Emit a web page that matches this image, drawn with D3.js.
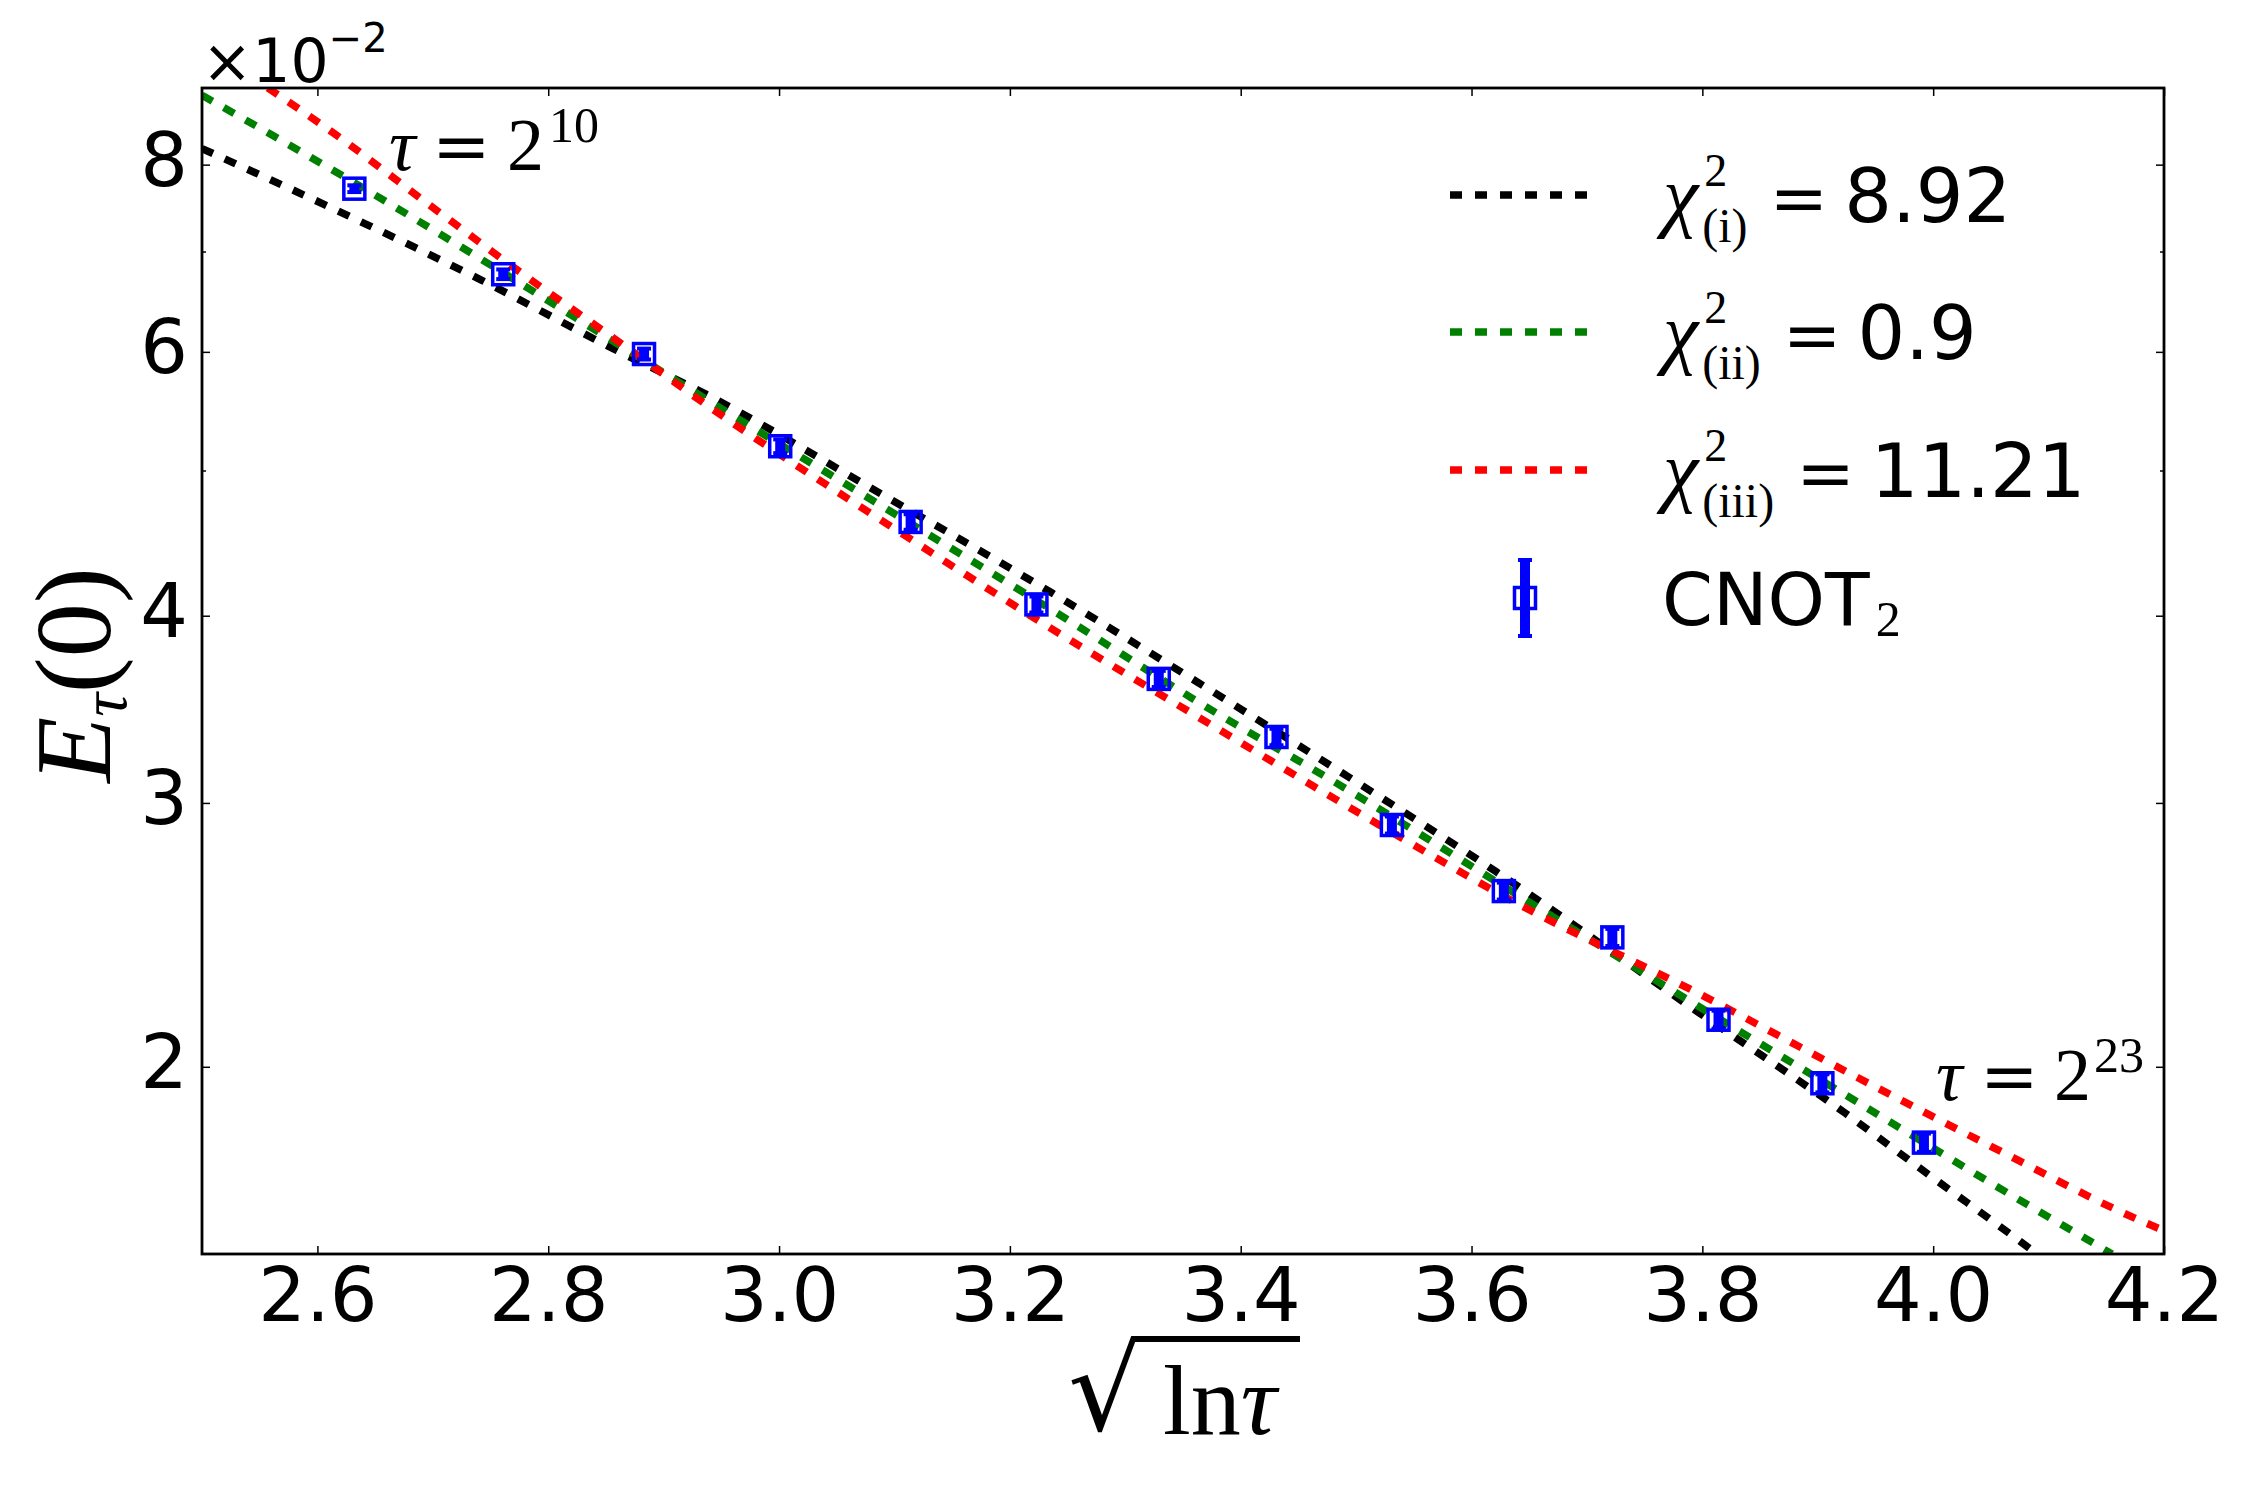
<!DOCTYPE html>
<html>
<head>
<meta charset="utf-8">
<script src="https://cdn.jsdelivr.net/npm/d3@7"></script>
<style>
  body { margin: 0; background: #fff; }
  svg { display: block; }
  .tick text { font-family: "DejaVu Sans"; font-size: 75px; fill: #000; }
  .tick line { stroke: #000; stroke-width: 1.5; }
  .math { font-family: "Liberation Serif", serif; fill: #000; }
</style>
</head>
<body>
<div id="chart"></div>
<script>
// Data (energies in units of 1e-2)
// ==============================
var sqrtLnTau = [2.632, 2.761, 2.883, 3.001, 3.114, 3.223, 3.329, 3.431, 3.531, 3.628, 3.722, 3.814, 3.904, 3.992];
var energy = [7.71, 6.76, 5.98, 5.19, 4.62, 4.07, 3.63, 3.32, 2.90, 2.62, 2.44, 2.15, 1.95, 1.78];
var energyErr = [0.04, 0.05, 0.05, 0.055, 0.055, 0.05, 0.045, 0.042, 0.038, 0.034, 0.032, 0.030, 0.027, 0.025];

// fit curves (i), (ii), (iii)
var fitX1 = [2.500, 2.626, 2.742, 2.858, 2.937, 3.087, 3.237, 3.363, 3.494, 3.621, 3.796, 3.924, 3.995, 4.084, 4.090];
var fitY1 = [8.20, 7.40, 6.70, 6.02, 5.62, 4.83, 4.14, 3.61, 3.12, 2.70, 2.176, 1.862, 1.697, 1.512, 1.50];
var fitX2 = [2.500, 2.621, 2.751, 2.862, 2.935, 3.084, 3.249, 3.364, 3.490, 3.638, 3.786, 3.934, 4.046, 4.155];
var fitY2 = [8.90, 7.87, 6.85, 6.06, 5.59, 4.76, 3.98, 3.50, 3.07, 2.61, 2.22, 1.895, 1.680, 1.50];
var fitX3 = [2.557, 2.611, 2.698, 2.784, 2.855, 2.943, 3.089, 3.234, 3.364, 3.494, 3.644, 3.796, 3.933, 4.050, 4.187, 4.200];
var fitY3 = [9.00, 8.43, 7.51, 6.71, 6.14, 5.49, 4.63, 3.93, 3.42, 2.98, 2.56, 2.24, 1.97, 1.77, 1.57, 1.555];

var fitColors = ["#000000", "#008000", "#ff0000"];
var fitSubs = ["(i)", "(ii)", "(iii)"];
var fitChi2 = ["8.92", "0.9", "11.21"];

var xTicks = [2.6, 2.8, 3.0, 3.2, 3.4, 3.6, 3.8, 4.0, 4.2];
var yTicks = [2, 3, 4, 6, 8];
var yMinorTicks = [5, 7];

// Chart area
// ==============================
var svgWidth = 2250, svgHeight = 1487;
var plot = { left: 202, right: 2164, top: 88, bottom: 1254 };

var svg = d3.select("#chart").append("svg")
  .attr("width", svgWidth)
  .attr("height", svgHeight);

var x = d3.scaleLinear().domain([2.5, 4.2]).range([plot.left, plot.right]);
var y = d3.scaleLog().domain([1.5, 9]).range([plot.bottom, plot.top]);

svg.append("clipPath").attr("id", "clip")
  .append("rect")
  .attr("x", plot.left).attr("y", plot.top)
  .attr("width", plot.right - plot.left).attr("height", plot.bottom - plot.top);

// Axes (ticks point inwards, mirrored on all sides)
// ==============================
var fmt = d3.format(".1f");
svg.append("g").attr("transform", `translate(0, ${plot.bottom})`)
  .call(d3.axisBottom(x).tickValues(xTicks).tickSize(-8).tickPadding(14).tickFormat(fmt))
  .call(g => g.select(".domain").remove());
svg.append("g").attr("transform", `translate(0, ${plot.top})`)
  .call(d3.axisTop(x).tickValues(xTicks).tickSize(-8).tickFormat(""))
  .call(g => g.select(".domain").remove());

svg.append("g").attr("transform", `translate(${plot.left}, 0)`)
  .call(d3.axisLeft(y).tickValues(yTicks).tickSize(-8).tickPadding(14).tickFormat(d3.format("d")))
  .call(g => g.select(".domain").remove())
  .call(g => g.selectAll("text").attr("dy", "0.28em"));
svg.append("g").attr("transform", `translate(${plot.right}, 0)`)
  .call(d3.axisRight(y).tickValues(yTicks).tickSize(-8).tickFormat(""))
  .call(g => g.select(".domain").remove());
svg.append("g").attr("transform", `translate(${plot.left}, 0)`)
  .call(d3.axisLeft(y).tickValues(yMinorTicks).tickSize(-4).tickFormat(""))
  .call(g => g.select(".domain").remove());
svg.append("g").attr("transform", `translate(${plot.right}, 0)`)
  .call(d3.axisRight(y).tickValues(yMinorTicks).tickSize(-4).tickFormat(""))
  .call(g => g.select(".domain").remove());

// Fit lines
// ==============================
var line = d3.line()
  .x(d => x(d[0]))
  .y(d => y(d[1]))
  .curve(d3.curveMonotoneX);

var fits = [d3.zip(fitX1, fitY1), d3.zip(fitX2, fitY2), d3.zip(fitX3, fitY3)];
var linesGroup = svg.append("g").attr("clip-path", "url(#clip)");
fits.forEach(function(pts, i) {
  linesGroup.append("path")
    .datum(pts)
    .attr("d", line)
    .attr("fill", "none")
    .attr("stroke", fitColors[i])
    .attr("stroke-width", 7.5)
    .attr("stroke-dasharray", "12 13");
});

// Data points with error bars
// ==============================
function errorMarker(g, cx, yTop, yBot, cy) {
  g.append("rect")
    .attr("x", cx - 5).attr("y", yTop)
    .attr("width", 10).attr("height", yBot - yTop)
    .attr("fill", "#0000ff");
  [yTop, yBot].forEach(function(yy) {
    g.append("rect")
      .attr("x", cx - 7).attr("y", yy - 2)
      .attr("width", 14).attr("height", 4)
      .attr("fill", "#0000ff");
  });
  g.append("rect")
    .attr("x", cx - 10.5).attr("y", cy - 10.5)
    .attr("width", 21).attr("height", 21)
    .attr("fill", "none")
    .attr("stroke", "#0000ff")
    .attr("stroke-width", 3.5);
}

var pointsGroup = svg.append("g");
sqrtLnTau.forEach(function(xv, i) {
  errorMarker(pointsGroup, x(xv), y(energy[i] + energyErr[i]), y(energy[i] - energyErr[i]), y(energy[i]));
});

// Frame
svg.append("rect")
  .attr("x", plot.left).attr("y", plot.top)
  .attr("width", plot.right - plot.left).attr("height", plot.bottom - plot.top)
  .attr("fill", "none").attr("stroke", "#000").attr("stroke-width", 2.8);

// Offset text x10^-2
// ==============================
var off = svg.append("text").attr("x", 202).attr("y", 82)
  .style("font-family", "DejaVu Sans").style("font-size", "60px");
off.append("tspan").text("×10");
off.append("tspan").attr("dy", -30).style("font-size", "40px").text("−2");

// Annotations
// ==============================
function tauLabel(xs, base, exponent) {
  var t = svg.append("text").attr("class", "math").attr("y", base).style("font-size", "74px");
  t.append("tspan").attr("x", xs[0]).style("font-style", "italic").text("τ");
  t.append("tspan").attr("x", xs[1]).style("font-family", "DejaVu Serif").style("font-size", "70px").text("=");
  t.append("tspan").attr("x", xs[2]).text("2");
  t.append("tspan").attr("x", xs[3]).attr("dy", -28).style("font-size", "50px").text(exponent);
}
tauLabel([389, 432, 507, 549], 170, "10");
tauLabel([1936, 1980, 2054, 2094], 1100, "23");

// Axis labels
// ==============================
var xl = svg.append("text").attr("class", "math").attr("x", 1163).attr("y", 1434).style("font-size", "100px");
xl.append("tspan").text("ln");
xl.append("tspan").style("font-style", "italic").text("τ");
var rad = svg.append("text").attr("x", 1068).attr("y", 1430)
  .style("font-family", "DejaVu Serif").style("font-size", "116px").text("√");
var rb = rad.node().getBBox();
svg.append("line")
  .attr("x1", rb.x + rb.width - 8).attr("x2", 1300)
  .attr("y1", 1339).attr("y2", 1339)
  .attr("stroke", "#000").attr("stroke-width", 6);

var yl = svg.append("text").attr("class", "math")
  .attr("transform", "translate(110, 675) rotate(-90)")
  .attr("text-anchor", "middle").style("font-size", "108px");
yl.append("tspan").style("font-style", "italic").text("E");
yl.append("tspan").attr("dy", 16).style("font-style", "italic").style("font-size", "66px").text("τ");
yl.append("tspan").attr("dy", -16).text("(0)");

// Legend
// ==============================
var legendRows = [195, 332, 470, 598];
var legendLine = [1450, 1588];
var textX = 1663;

fitColors.forEach(function(c, i) {
  var cy = legendRows[i];
  svg.append("line")
    .attr("x1", legendLine[0]).attr("x2", legendLine[1])
    .attr("y1", cy).attr("y2", cy)
    .attr("stroke", c).attr("stroke-width", 7.5)
    .attr("stroke-dasharray", "12 13");

  var chi = svg.append("text").attr("class", "math").attr("x", textX).attr("y", cy + 27)
    .style("font-style", "italic").style("font-size", "80px").text("χ");
  var sx = textX + chi.node().getComputedTextLength() + 6;
  svg.append("text").attr("class", "math").attr("x", sx).attr("y", cy - 9)
    .style("font-size", "46px").text("2");
  var sub = svg.append("text").attr("class", "math").attr("x", sx - 2).attr("y", cy + 47)
    .style("font-size", "48px").text(fitSubs[i]);
  var ex = sx - 2 + sub.node().getComputedTextLength() + 22;
  var eq = svg.append("text").attr("x", ex).attr("y", cy + 27)
    .style("font-family", "DejaVu Serif").style("font-size", "70px").text("=");
  var vx = ex + eq.node().getComputedTextLength() + 16;
  svg.append("text").attr("x", vx).attr("y", cy + 27)
    .style("font-family", "DejaVu Sans").style("font-size", "75px").text(fitChi2[i]);
});

var cnY = legendRows[3];
errorMarker(svg.append("g"), 1525, cnY - 38, cnY + 38, cnY);
var cn = svg.append("text").attr("x", 1662).attr("y", cnY + 27)
  .style("font-family", "DejaVu Sans").style("font-size", "73px").text("CNOT");
svg.append("text").attr("class", "math")
  .attr("x", 1662 + cn.node().getComputedTextLength() + 6).attr("y", cnY + 38)
  .style("font-size", "50px").text("2");
</script>
</body>
</html>
